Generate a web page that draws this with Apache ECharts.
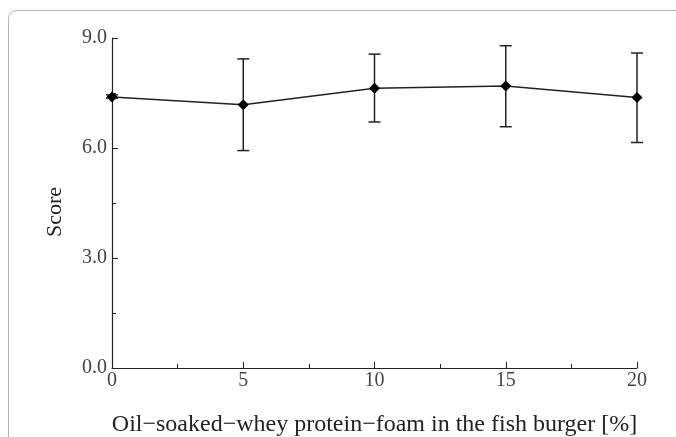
<!DOCTYPE html>
<html><head><meta charset="utf-8">
<script src="https://cdn.jsdelivr.net/npm/echarts@6/dist/echarts.min.js"></script>
<style>html,body{margin:0;padding:0;background:#fff}#c{width:676px;height:437px}</style>
</head><body><div id="c"></div>
<script>
const xValues = [0, 5, 10, 15, 20];
const scores = [7.39, 7.18, 7.63, 7.69, 7.38];
const errLow = [7.36, 5.93, 6.71, 6.58, 6.15];
const errHigh = [7.45, 8.43, 8.56, 8.79, 8.59];
const xName = 'Oil\u2212soaked\u2212whey protein\u2212foam in the fish burger [%]';
const yName = 'Score';

const chart = echarts.init(document.getElementById('c'));
const font = 'Liberation Serif';
chart.setOption({
  animation: false,
  graphic: [{
    type: 'rect', z: -1,
    shape: {x: 8.5, y: 10.5, width: 720, height: 500, r: 8},
    style: {fill: 'none', stroke: '#b5b5b5', lineWidth: 1}
  }],
  grid: {left: 112, right: 39, top: 38, bottom: 69, containLabel: false, outerBoundsMode: 'none'},
  xAxis: {
    type: 'value', min: 0, max: 20, interval: 5,
    name: xName, nameLocation: 'middle', nameGap: 45,
    nameTextStyle: {fontFamily: font, fontSize: 24, color: '#222'},
    axisLine: {lineStyle: {color: '#222', width: 1.2}},
    axisTick: {inside: true, length: 6, lineStyle: {color: '#222'}},
    minorTick: {show: true, splitNumber: 2, length: 4, lineStyle: {color: '#222'}},
    axisLabel: {fontFamily: font, fontSize: 20, color: '#444', margin: 3},
    splitLine: {show: false}
  },
  yAxis: {
    type: 'value', min: 0, max: 9, interval: 3,
    name: yName, nameLocation: 'middle', nameGap: 46,
    nameTextStyle: {fontFamily: font, fontSize: 22, color: '#222', padding: [0, 18, 0, 0]},
    axisLine: {show: true, lineStyle: {color: '#222', width: 1.2}},
    axisTick: {show: true, inside: true, length: 6, lineStyle: {color: '#222'}},
    minorTick: {show: true, splitNumber: 2, length: 4, lineStyle: {color: '#222'}},
    axisLabel: {fontFamily: font, fontSize: 20, color: '#444', margin: 5,
      formatter: v => v.toFixed(1)},
    splitLine: {show: false}
  },
  series: [{
    type: 'custom',
    data: xValues.map((x, i) => [x, errLow[i], errHigh[i]]),
    renderItem: function (params, api) {
      const x = api.value(0);
      const lo = api.coord([x, api.value(1)]);
      const hi = api.coord([x, api.value(2)]);
      const cw = 6;
      const st = {stroke: '#222', lineWidth: 1.5};
      return {type: 'group', children: [
        {type: 'line', shape: {x1: lo[0], y1: lo[1], x2: hi[0], y2: hi[1]}, style: st},
        {type: 'line', shape: {x1: lo[0] - cw, y1: lo[1], x2: lo[0] + cw, y2: lo[1]}, style: st},
        {type: 'line', shape: {x1: hi[0] - cw, y1: hi[1], x2: hi[0] + cw, y2: hi[1]}, style: st}
      ]};
    },
    z: 2
  }, {
    type: 'line',
    data: xValues.map((x, i) => [x, scores[i]]),
    symbol: 'diamond', symbolSize: 11,
    itemStyle: {color: '#000'},
    lineStyle: {color: '#222', width: 1.5},
    z: 3
  }]
});
</script></body></html>
